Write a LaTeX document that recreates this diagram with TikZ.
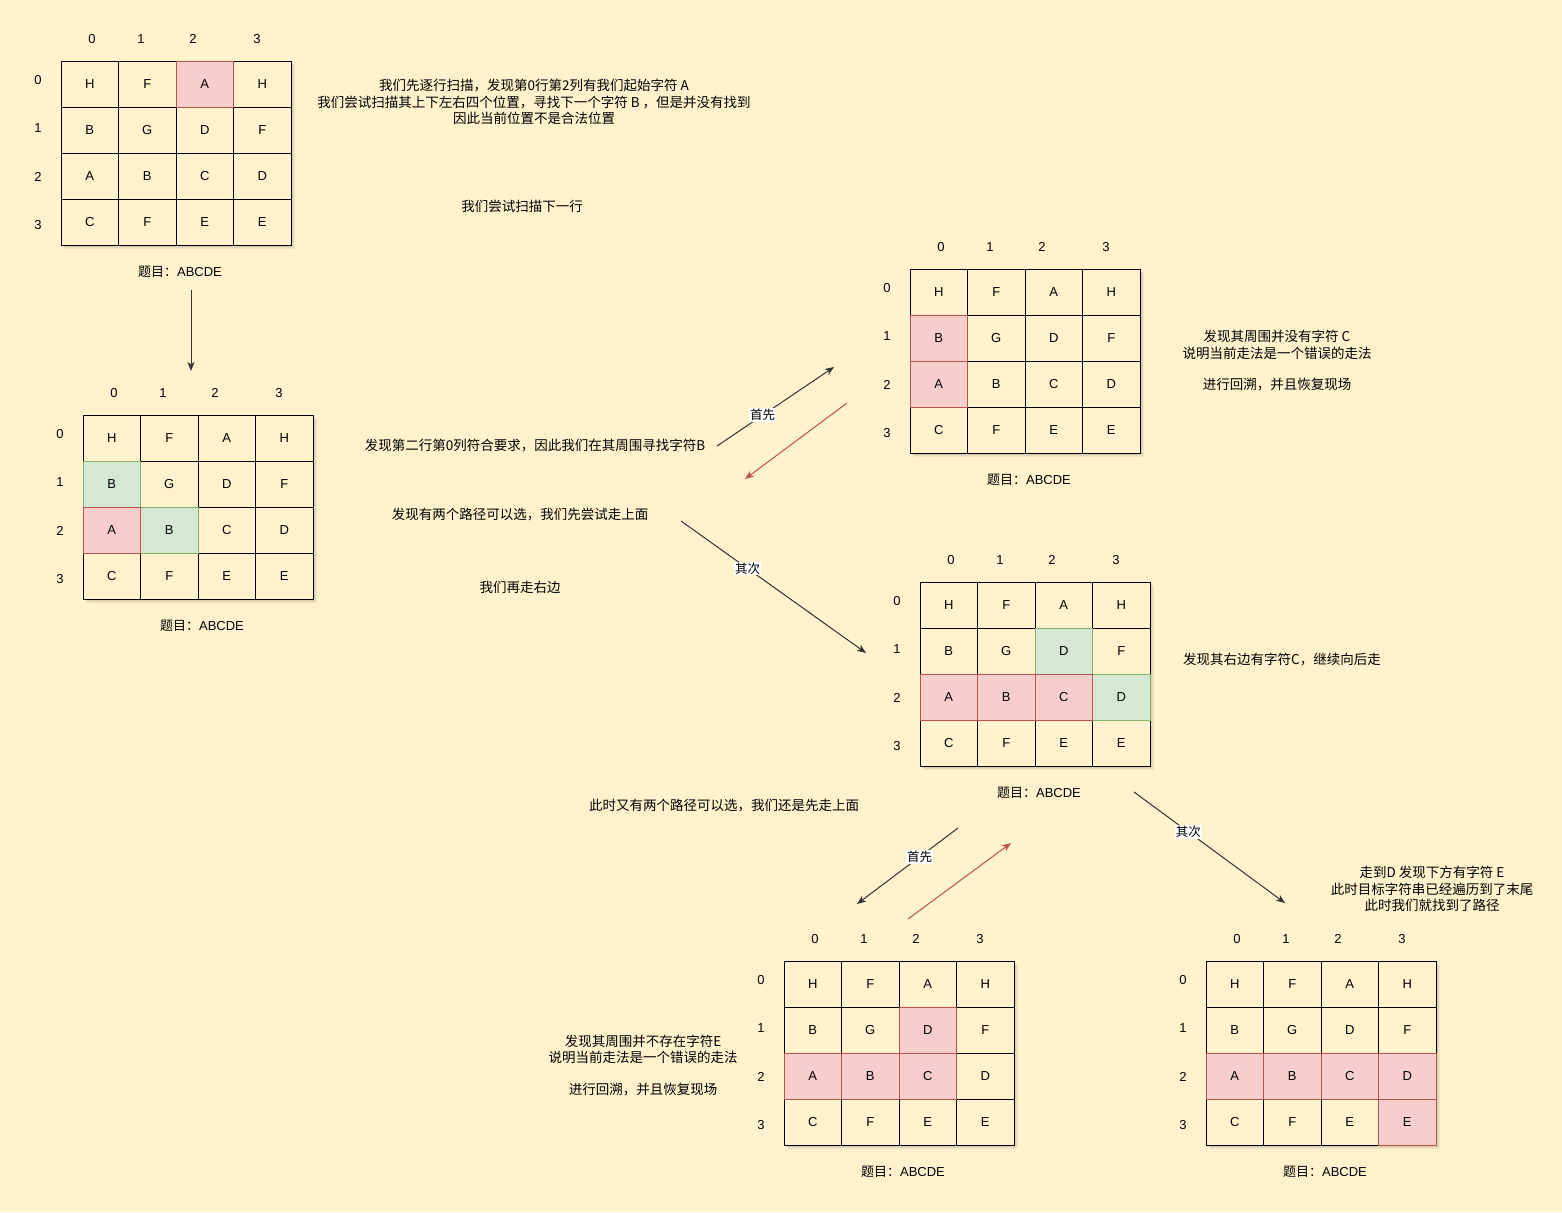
\documentclass[tikz,border=0pt]{standalone}
\usepackage{fontspec}
\setmainfont{Liberation Sans}
\newfontfamily\cjk{Noto Sans CJK SC}
\usetikzlibrary{arrows.meta}
\definecolor{bg}{HTML}{FFF2CC}
\definecolor{rf}{HTML}{F8CECC}
\definecolor{rd}{HTML}{B85450}
\definecolor{gf}{HTML}{D5E8D4}
\definecolor{gd}{HTML}{82B366}
\definecolor{ln}{HTML}{333333}
\newcommand\mygrid[4]{%
  \begin{scope}[shift={(#2,#3)}]
    \foreach \o in {1,2,3,4} \fill[black,opacity=0.05] (\o,\o) rectangle ++(230,184);
    \foreach \rowl [count=\r from 0] in {{H,F,A,H},{B,G,D,F},{A,B,C,D},{C,F,E,E}} {
      \foreach \ch [count=\c from 0] in \rowl {
        \node[cell] (#1-\r-\c) at ({\c*57.5+28.75},{\r*46+23}) {\ch};
      }
    }
    \foreach \t [count=\c from 0] in {31,80,132,196} \node[idx] (#1-col\c) at (\t,-22) {\c};
    \foreach \t [count=\r from 0] in {19,67,116,164} \node[idx] (#1-row\r) at (-23,\t) {\r};
    \node[idx] (#1-cap) at (119,211) {{\cjk 题目：}ABCDE};
  \end{scope}
  \foreach \r/\c/\ch/\fc/\dc in {#4} {
    \node[cell, fill=\fc, draw=\dc] (#1-h\r\c) at (#1-\r-\c) {\ch};
  }
}
\begin{document}
\begin{tikzpicture}[x=1pt, y=-1pt,
  cell/.style={draw=black, line width=0.9pt, fill=bg, minimum width=57.5pt,
    minimum height=46pt, inner sep=0pt, font=\fontsize{13}{15}\selectfont},
  idx/.style={font=\fontsize{13}{15}\selectfont, inner sep=0pt},
  txt/.style={font=\cjk\fontsize{13.5}{16.5}\selectfont, align=center, inner sep=0pt},
  lab/.style={fill=white, font=\cjk\fontsize{12.5}{14}\selectfont, inner sep=1pt},
  arr/.style={draw=ln, line width=1pt, -{Stealth[length=9pt,width=7pt,inset=2.5pt]}},
  rarr/.style={draw=rd, line width=1pt, -{Stealth[length=9pt,width=7pt,inset=2.5pt]}}]
\useasboundingbox (0,0) rectangle (1562,1212);
\fill[bg] (0,0) rectangle (1562,1212);

\mygrid{ga}{61}{61}{0/2/A/rf/rd}
\mygrid{gb}{83}{415}{1/0/B/gf/gd, 2/1/B/gf/gd, 2/0/A/rf/rd}
\mygrid{gc}{910}{269}{1/0/B/rf/rd, 2/0/A/rf/rd}
\mygrid{gd}{920}{582}{1/2/D/gf/gd, 2/3/D/gf/gd, 2/0/A/rf/rd, 2/1/B/rf/rd, 2/2/C/rf/rd}
\mygrid{ge}{784}{961}{1/2/D/rf/rd, 2/0/A/rf/rd, 2/1/B/rf/rd, 2/2/C/rf/rd}
\mygrid{gf}{1206}{961}{2/0/A/rf/rd, 2/1/B/rf/rd, 2/2/C/rf/rd, 2/3/D/rf/rd, 3/3/E/rf/rd}

% texts
\node[txt] (t1) at (534,102) {我们先逐行扫描，发现第0行第2列有我们起始字符 A\\我们尝试扫描其上下左右四个位置，寻找下一个字符 B ，但是并没有找到\\因此当前位置不是合法位置};
\node[txt] (t2) at (522,206) {我们尝试扫描下一行};
\node[txt] (t3) at (535,445) {发现第二行第0列符合要求，因此我们在其周围寻找字符B};
\node[txt] (t4) at (520,515) {发现有两个路径可以选，我们先尝试走上面};
\node[txt] (t5) at (520,587) {我们再走右边};
\node[txt] (t6) at (1277,361) {发现其周围并没有字符 C\\说明当前走法是一个错误的走法\\[15pt]进行回溯，并且恢复现场};
\node[txt] (t7) at (1282,659) {发现其右边有字符C，继续向后走};
\node[txt] (t8) at (724,806) {此时又有两个路径可以选，我们还是先走上面};
\node[txt] (t9) at (1432,889) {走到D 发现下方有字符 E\\此时目标字符串已经遍历到了末尾\\此时我们就找到了路径};
\node[txt] (t10) at (643,1065) {发现其周围并不存在字符E\\说明当前走法是一个错误的走法\\[15pt]进行回溯，并且恢复现场};

% connector end points
\coordinate (a1s) at (191,290);  \coordinate (a1e) at (191,371);
\coordinate (a2s) at (717,446);  \coordinate (a2e) at (834,367);
\coordinate (a3s) at (847,403);  \coordinate (a3e) at (745,479);
\coordinate (a4s) at (681,521);  \coordinate (a4e) at (866,653);
\coordinate (a5s) at (958,828);  \coordinate (a5e) at (857,904);
\coordinate (a6s) at (908,919);  \coordinate (a6e) at (1011,843);
\coordinate (a7s) at (1134,792); \coordinate (a7e) at (1285,903);

\draw[arr] (a1s) -- (a1e);
\draw[arr] (a2s) -- node[lab, pos=0.39] (l2) {首先} (a2e);
\draw[rarr] (a3s) -- (a3e);
\draw[arr] (a4s) -- node[lab, pos=0.36] (l4) {其次} (a4e);
\draw[arr] (a5s) -- node[lab, pos=0.38] (l5) {首先} (a5e);
\draw[rarr] (a6s) -- (a6e);
\draw[arr] (a7s) -- node[lab, pos=0.36] (l7) {其次} (a7e);
\end{tikzpicture}
\end{document}
